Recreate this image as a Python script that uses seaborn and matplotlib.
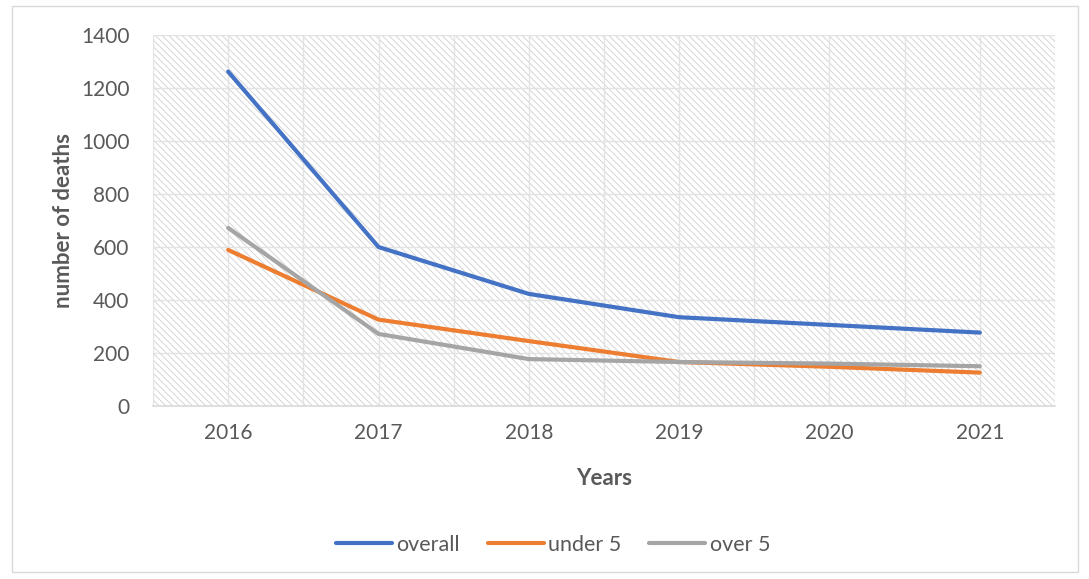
import pandas as pd
import matplotlib.pyplot as plt
import seaborn as sns
from matplotlib.patches import Rectangle

# --- data ---
years = ["2016", "2017", "2018", "2019", "2020", "2021"]
overall = [1262, 600, 423, 335, 306, 277]
under_5 = [589, 326, 245, 166, 148, 126]
over_5 = [672, 272, 177, 166, 160, 150]

series_names = ["overall", "under 5", "over 5"]
colors = ["#4472C4", "#ED7D31", "#A5A5A5"]


def main():
	df = pd.DataFrame({"year": years, "overall": overall, "under 5": under_5, "over 5": over_5})
	long_df = df.melt(id_vars="year", var_name="group", value_name="deaths")
	long_df["pos"] = long_df["year"].map({y: i for i, y in enumerate(years)})

	sns.set_theme(style="white")
	plt.rcParams["font.family"] = ["Lato", "DejaVu Sans"]
	plt.rcParams["hatch.linewidth"] = 0.6
	plt.rcParams["hatch.color"] = "#D0D0D0"

	fig = plt.figure(figsize=(10.89, 5.79), dpi=100)
	ax = fig.add_axes([153 / 1089, 1 - 406 / 579, (1055 - 153) / 1089, (406 - 35) / 579])

	# outer chart border
	fig.patches.append(Rectangle((12 / 1089, 1 - 572 / 579), (1078 - 12) / 1089, (572 - 6) / 579,
		transform=fig.transFigure, fill=False, edgecolor="#D9D9D9", linewidth=1.0))

	# hatched plot area
	ax.add_patch(Rectangle((0, 0), 1, 1, transform=ax.transAxes, facecolor="white",
		edgecolor="#D0D0D0", hatch="\\\\\\\\\\", linewidth=0, zorder=0))

	ax.set_xlim(-0.5, len(years) - 0.5)
	ax.set_ylim(0, 1400)
	ax.set_yticks(range(0, 1401, 200))
	ax.set_xticks(range(len(years)))
	ax.set_xticklabels(years)

	for y in range(200, 1401, 200):
		ax.axhline(y, color="#E3E3E3", linewidth=1.0, zorder=1)
	for i in range(2 * len(years) + 1):
		ax.axvline(-0.5 + i * 0.5, color="#E3E3E3", linewidth=1.0, zorder=1)

	sns.lineplot(data=long_df, x="pos", y="deaths", hue="group", hue_order=series_names,
		palette=colors, linewidth=3.0, ax=ax, zorder=3, legend=True)

	for s in ["top", "right", "left"]:
		ax.spines[s].set_visible(False)
	ax.spines["bottom"].set_color("#D9D9D9")
	ax.spines["bottom"].set_linewidth(1.2)
	ax.spines["bottom"].set_zorder(2)

	ax.tick_params(axis="both", length=0, labelsize=15, labelcolor="#595959")
	ax.tick_params(axis="x", pad=12)
	ax.tick_params(axis="y", pad=17)
	ax.set_xlabel("Years", fontsize=16, fontweight="bold", color="#595959", labelpad=18)
	ax.set_ylabel("number of deaths", fontsize=16, fontweight="bold", color="#595959", labelpad=5)

	handles, labels = ax.get_legend_handles_labels()
	ax.legend(handles, labels, loc="center", bbox_to_anchor=(553 / 1089, 1 - 545 / 579),
		bbox_transform=fig.transFigure, ncol=3, frameon=False,
		fontsize=15.5, labelcolor="#595959", handlelength=2.6, handletextpad=0.2, columnspacing=1.3)

	fig.savefig("out.png", dpi=100)


if __name__ == "__main__":
	main()
